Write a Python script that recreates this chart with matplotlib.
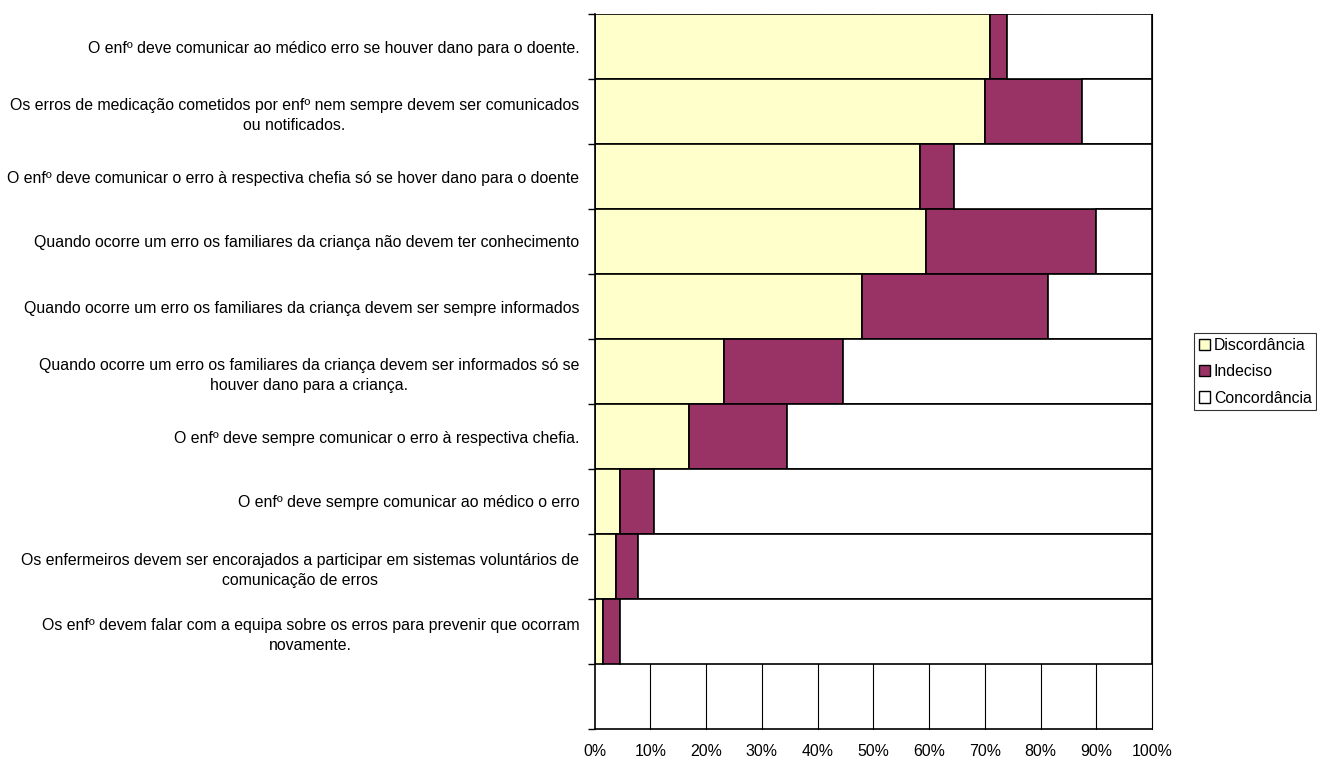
import matplotlib
matplotlib.use("Agg")
import matplotlib.pyplot as plt
from matplotlib.patches import Patch
import numpy as np

plt.rcParams['font.family'] = ['Liberation Sans', 'DejaVu Sans']

categories = [
    "O enfº deve comunicar ao médico erro se houver dano para o doente.",
    "Os erros de medicação cometidos por enfº nem sempre devem ser comunicados\nou notificados.",
    "O enfº deve comunicar o erro à respectiva chefia só se hover dano para o doente",
    "Quando ocorre um erro os familiares da criança não devem ter conhecimento",
    "Quando ocorre um erro os familiares da criança devem ser sempre informados",
    "Quando ocorre um erro os familiares da criança devem ser informados só se\nhouver dano para a criança.",
    "O enfº deve sempre comunicar o erro à respectiva chefia.",
    "O enfº deve sempre comunicar ao médico o erro",
    "Os enfermeiros devem ser encorajados a participar em sistemas voluntários de\ncomunicação de erros",
    "Os enfº devem falar com a equipa sobre os erros para prevenir que ocorram\nnovamente.",
]
discordancia = [70.9, 70.0, 58.4, 59.4, 47.9, 23.3, 16.9, 4.5, 3.8, 1.5]
indeciso =     [3.1, 17.4, 6.1, 30.5, 33.5, 21.2, 17.7, 6.1, 4.0, 3.1]
concordancia = [100 - d - i for d, i in zip(discordancia, indeciso)]
series_names = ["Discordância", "Indeciso", "Concordância"]
colors = ["#FFFFCC", "#993366", "#FFFFFF"]
xtick_labels = ["0%", "10%", "20%", "30%", "40%", "50%", "60%", "70%", "80%", "90%", "100%"]

FS = 11.4

fig = plt.figure(figsize=(13.17, 7.62), dpi=100)
ax = fig.add_axes([594.5/1317, 1 - 729/762, (1152 - 594.5)/1317, (729 - 14)/762])

n = len(categories)
ypos = np.arange(n, 0, -1)  # top category at n, empty slot at 0
left = np.zeros(n)
for vals, col in zip([discordancia, indeciso, concordancia], colors):
    v = np.array(vals) / 100.0
    ax.barh(ypos, v, left=left, height=1.0, color=col, edgecolor='black',
            linewidth=1.2, zorder=3)
    left += v

ax.set_xlim(0, 1)
ax.set_ylim(-0.5, n + 0.5)

# vertical gridlines
for gx in np.arange(0.1, 1.01, 0.1):
    ax.axvline(gx, color='black', linewidth=0.8, zorder=1, clip_on=False)

ax.set_xticks(np.linspace(0, 1, 11))
ax.set_xticklabels(xtick_labels, fontsize=FS)
ax.tick_params(axis='x', length=0, pad=11)

ax.set_yticks(np.arange(-0.5, n + 0.6, 1.0))
ax.set_yticklabels([])
ax.tick_params(axis='y', which='major', length=5, width=1, direction='out')
ax.set_yticks(ypos, minor=True)
ax.set_yticklabels(categories, minor=True, fontsize=FS, multialignment='center',
                   linespacing=1.4)
ax.tick_params(axis='y', which='minor', length=0, pad=11)

for s in ['top', 'right']:
    ax.spines[s].set_visible(False)
ax.spines['left'].set_linewidth(1.2)
ax.spines['bottom'].set_linewidth(1.2)
ax.spines['left'].set_zorder(4)

handles = [Patch(facecolor=c, edgecolor='black', linewidth=1.0) for c in colors]
leg = fig.legend(handles, series_names, loc='upper left',
                 bbox_to_anchor=(1194/1317, 1 - 333/762), fontsize=FS,
                 frameon=True, fancybox=False, edgecolor='black',
                 handlelength=0.7, handleheight=0.7, handletextpad=0.25,
                 borderpad=0.3, labelspacing=0.72, borderaxespad=0)
leg.get_frame().set_linewidth(0.8)

fig.savefig("out.png", dpi=100)
